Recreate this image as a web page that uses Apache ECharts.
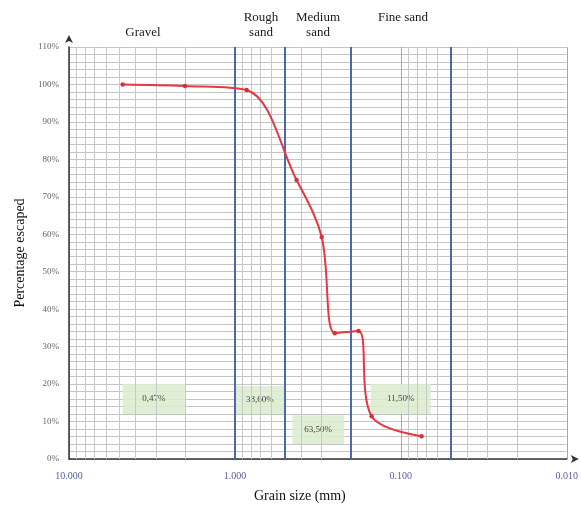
<!DOCTYPE html>
<html>
<head>
<meta charset="utf-8">
<title>Grain size distribution</title>
<script src="https://cdn.jsdelivr.net/npm/echarts@6/dist/echarts.min.js"></script>
<style>
  html, body { margin: 0; padding: 0; background: #fff; }
  #chart { width: 581px; height: 508px; }
</style>
</head>
<body>
<div id="chart"></div>
<script>
// Sieve openings (mm) and cumulative percentage passing
const sieveSizes = [4.75, 2.0, 0.85, 0.425, 0.3, 0.25, 0.18, 0.15, 0.075];
const percentPassing = [100, 99.6, 98.5, 74.5, 59.3, 33.6, 34.2, 11.4, 6.1];

// Fraction boundaries (mm)
const boundarySizes = [1.0, 0.5, 0.2, 0.05];

// Soil fraction names and their shares
const fractionNames = ['Gravel', 'Rough\nsand', 'Medium\nsand', 'Fine sand'];
const fractionShares = ['0,47%', '38,60%', '63,50%', '11,50%'];

// Axis tick labels
const xTickValues = [10, 1, 0.1, 0.01];
const yTickLabels = ['0%', '10%', '20%', '30%', '40%', '50%', '60%', '70%', '80%', '90%', '100%', '110%'];

// Share boxes, placed in data space: [size from, size to, % from, % to]
const shareBoxes = [
  [4.75, 2.0, 12, 20],
  [1.0, 0.5, 12, 19.5],
  [0.45, 0.22, 4, 11.7],
  [0.152, 0.066, 12, 20]
];

// Log-scale minor grid positions (2..9 in each decade)
const minorGrid = [];
[1, 0.1, 0.01].forEach(function (d) {
  for (let k = 2; k <= 9; k++) minorGrid.push(+(k * d).toPrecision(3));
});

const serif = 'Liberation Serif';
const gridColor = '#c4c4c4';

const chart = echarts.init(document.getElementById('chart'), null, { renderer: 'canvas' });

// fraction name headings above the plot
const headingPos = [[143, 25], [261, 10], [318, 10], [403, 10]];

const option = {
  backgroundColor: '#ffffff',
  animation: false,
  grid: { left: 69, right: 13, top: 47, bottom: 49, containLabel: false },
  xAxis: {
    type: 'log',
    logBase: 10,
    min: 0.01,
    max: 10,
    inverse: true,
    name: 'Grain size (mm)',
    nameLocation: 'middle',
    nameGap: 30,
    nameTextStyle: { fontFamily: serif, fontSize: 14, color: '#111', padding: [0, 36, 0, 0] },
    axisLine: {
      show: true,
      lineStyle: { color: '#333', width: 1.5 },
      symbol: ['none', 'arrow'],
      symbolSize: [6, 8],
      symbolOffset: [0, 12]
    },
    axisTick: { show: false },
    axisLabel: {
      fontFamily: serif,
      fontSize: 10,
      color: '#5a5c9c',
      margin: 12,
      showMinLabel: true,
      showMaxLabel: true,
      formatter: function (v) {
        const hit = xTickValues.find(function (t) { return Math.abs(Math.log10(t) - Math.log10(v)) < 1e-6; });
        return hit !== undefined ? hit.toFixed(3) : '';
      }
    },
    splitLine: { show: true, lineStyle: { color: '#a8a8a8', width: 1 } }
  },
  yAxis: {
    type: 'value',
    min: 0,
    max: 110,
    interval: 10,
    name: 'Percentage escaped',
    nameLocation: 'middle',
    nameGap: 42,
    nameRotate: 90,
    nameTextStyle: { fontFamily: serif, fontSize: 14, color: '#111' },
    axisLine: {
      show: true,
      lineStyle: { color: '#333', width: 1.5 },
      symbol: ['none', 'arrow'],
      symbolSize: [6, 8],
      symbolOffset: [0, 12]
    },
    axisTick: { show: false },
    axisLabel: {
      fontFamily: serif,
      fontSize: 9,
      color: '#666',
      margin: 10,
      formatter: function (v) { return yTickLabels[Math.round(v / 10)]; }
    },
    splitLine: { show: true, lineStyle: { color: gridColor, width: 1 } },
    minorTick: { show: false, splitNumber: 5 },
    minorSplitLine: { show: true, lineStyle: { color: gridColor, width: 1 } }
  },
  series: [
    {
      // vertical minor grid for the logarithmic axis
      type: 'line',
      data: [],
      silent: true,
      markLine: {
        silent: true,
        symbol: 'none',
        label: { show: false },
        lineStyle: { color: '#c8c8c8', width: 1, type: 'solid' },
        data: minorGrid.map(function (v) { return { xAxis: v }; })
      }
    },
    {
      // shaded boxes with fraction shares
      type: 'line',
      data: [],
      silent: true,
      markArea: {
        silent: true,
        itemStyle: { color: 'rgba(222, 236, 210, 0.9)' },
        label: {
          show: true,
          position: 'inside',
          fontFamily: serif,
          fontSize: 9,
          color: '#3a4a30'
        },
        data: shareBoxes.map(function (b, i) {
          return [
            { xAxis: b[0], yAxis: b[2], name: fractionShares[i] },
            { xAxis: b[1], yAxis: b[3] }
          ];
        })
      }
    },
    {
      // fraction boundaries
      type: 'line',
      data: [],
      silent: true,
      markLine: {
        silent: true,
        symbol: 'none',
        label: { show: false },
        lineStyle: { color: '#4a69b0', width: 2, type: 'solid' },
        data: boundarySizes.map(function (v) { return { xAxis: v }; })
      }
    },
    {
      name: 'Percentage escaped',
      type: 'line',
      smooth: 0.35,
      symbol: 'circle',
      symbolSize: 4.5,
      z: 5,
      lineStyle: { color: '#e53841', width: 2 },
      itemStyle: { color: '#d8303a' },
      data: sieveSizes.map(function (s, i) { return [s, percentPassing[i]]; })
    }
  ],
  graphic: fractionNames.map(function (name, i) {
    return {
      type: 'text',
      x: headingPos[i][0],
      y: headingPos[i][1],
      style: {
        text: name,
        font: '13px ' + serif,
        fill: '#1a1a1a',
        align: 'center',
        verticalAlign: 'top',
        lineHeight: 15
      }
    };
  })
};

chart.setOption(option);
</script>
</body>
</html>
